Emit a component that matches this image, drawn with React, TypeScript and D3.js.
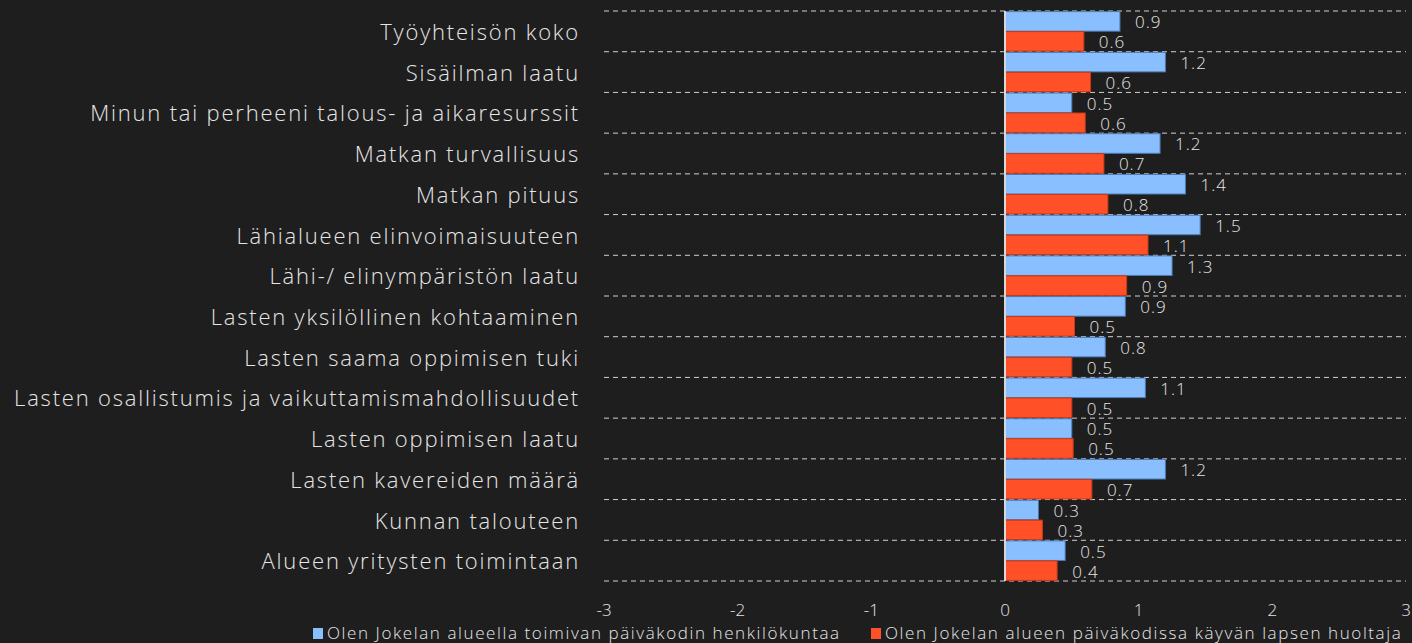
import React from "react";
import * as d3 from "d3";

const width = 1412;
const height = 643;
const margin = { top: 11, right: 6, bottom: 62, left: 604 };

const categories = [
  "Työyhteisön koko",
  "Sisäilman laatu",
  "Minun tai perheeni talous- ja aikaresurssit",
  "Matkan turvallisuus",
  "Matkan pituus",
  "Lähialueen elinvoimaisuuteen",
  "Lähi-/ elinympäristön laatu",
  "Lasten yksilöllinen kohtaaminen",
  "Lasten saama oppimisen tuki",
  "Lasten osallistumis ja vaikuttamismahdollisuudet",
  "Lasten oppimisen laatu",
  "Lasten kavereiden määrä",
  "Kunnan talouteen",
  "Alueen yritysten toimintaan",
];

const staffValues = [0.86, 1.2, 0.5, 1.16, 1.35, 1.46, 1.25, 0.9, 0.75, 1.05, 0.5, 1.2, 0.25, 0.45];
const parentValues = [0.59, 0.64, 0.6, 0.74, 0.77, 1.07, 0.91, 0.52, 0.5, 0.5, 0.51, 0.65, 0.28, 0.39];

const seriesNames = [
  "Olen Jokelan alueella toimivan päiväkodin henkilökuntaa",
  "Olen Jokelan alueen päiväkodissa käyvän lapsen huoltaja",
];
const xTicks = [-3, -2, -1, 0, 1, 2, 3];

const colors = ["#89bfff", "#ff5027"];
const strokes = ["#4d7bb5", "#c73a1a"];
const font = "'Open Sans', 'Noto Sans', sans-serif";
const textColor = "#e6e6e6";

export default function App() {
  const x = d3.scaleLinear().domain([-3, 3]).range([margin.left, width - margin.right]);
  const y = d3
    .scaleBand()
    .domain(categories)
    .range([margin.top, height - margin.bottom])
    .paddingInner(0)
    .paddingOuter(0);
  const sub = d3.scaleBand().domain(["0", "1"]).range([0, y.bandwidth()]).paddingInner(0.02).paddingOuter(0.03);

  const series = [staffValues, parentValues];
  const boundaries = [...categories.map((c) => y(c)!), height - margin.bottom];

  return (
    <svg
      width={width}
      height={height}
      style={{ position: "absolute", left: 0, top: 0, background: "#1e1e1e" }}
    >
      <rect x={0} y={0} width={width} height={height} fill="#1e1e1e" />
      {boundaries.map((b, i) => (
        <line
          key={"g" + i}
          x1={x(-3)}
          x2={x(3)}
          y1={b}
          y2={b}
          stroke="#d0d0d0"
          strokeWidth={1}
          strokeDasharray="5,4"
        />
      ))}
      {categories.map((c, i) => (
        <g key={c}>
          <text
            x={580}
            y={y(c)! + y.bandwidth() / 2 + 1}
            dy="0.35em"
            textAnchor="end"
            fill={textColor}
            fontFamily={font}
            fontWeight={300}
            fontSize={22}
            letterSpacing={1.8}
          >
            {c}
          </text>
          {series.map((vals, s) => {
            const v = vals[i];
            const by = y(c)! + sub(String(s))!;
            return (
              <g key={s}>
                <rect
                  x={x(0)}
                  y={by}
                  width={x(v) - x(0)}
                  height={sub.bandwidth()}
                  fill={colors[s]}
                  stroke={strokes[s]}
                  strokeWidth={1}
                />
                <text
                  x={x(v) + 15}
                  y={by + sub.bandwidth() / 2 + 1}
                  dy="0.35em"
                  fill={textColor}
                  fontFamily={font}
                  fontWeight={300}
                  fontSize={17}
                  letterSpacing={1}
                >
                  {d3.format(".1f")(v)}
                </text>
              </g>
            );
          })}
        </g>
      ))}
      <line
        x1={x(0)}
        x2={x(0)}
        y1={margin.top}
        y2={height - margin.bottom}
        stroke="#d8d8d8"
        strokeWidth={2}
      />
      {xTicks.map((t) => (
        <text
          key={t}
          x={x(t)}
          y={616}
          textAnchor="middle"
          fill={textColor}
          fontFamily={font}
          fontWeight={300}
          fontSize={17}
        >
          {t}
        </text>
      ))}
      {seriesNames.map((n, s) => {
        const lx = s === 0 ? 313 : 871;
        return (
          <g key={n}>
            <rect x={lx} y={628} width={10} height={11} fill={colors[s]} />
            <text
              x={lx + 14}
              y={633}
              dy="0.35em"
              fill={textColor}
              fontFamily={font}
              fontWeight={300}
              fontSize={17}
              letterSpacing={1.6}
            >
              {n}
            </text>
          </g>
        );
      })}
    </svg>
  );
}
